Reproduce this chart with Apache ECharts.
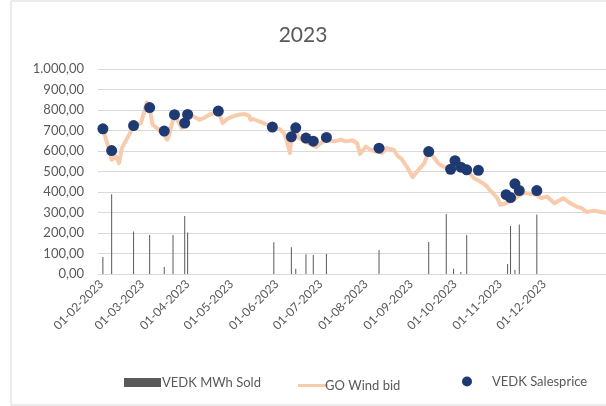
<!DOCTYPE html>
<html>
<head>
<meta charset="utf-8">
<script src="https://cdn.jsdelivr.net/npm/echarts@6/dist/echarts.min.js"></script>
<style>html,body{margin:0;padding:0;background:#fff}#c{width:606px;height:406px}</style>
</head>
<body>
<div id="c"></div>
<script>
// GO Wind bid (line)
const bidDates = ['2023-02-02','2023-02-07','2023-02-08','2023-02-11','2023-02-13','2023-02-15','2023-02-23','2023-02-28','2023-03-02','2023-03-04','2023-03-06','2023-03-08','2023-03-11','2023-03-15','2023-03-18','2023-03-19','2023-03-22','2023-03-23','2023-03-28','2023-03-31','2023-04-02','2023-04-05','2023-04-09','2023-04-12','2023-04-16','2023-04-19','2023-04-22','2023-04-25','2023-04-28','2023-05-02','2023-05-06','2023-05-10','2023-05-13','2023-05-14','2023-05-16','2023-05-20','2023-05-24','2023-05-29','2023-06-03','2023-06-06','2023-06-08','2023-06-10','2023-06-11','2023-06-14','2023-06-16','2023-06-20','2023-06-23','2023-06-28','2023-07-01','2023-07-05','2023-07-10','2023-07-15','2023-07-18','2023-07-23','2023-07-26','2023-07-28','2023-08-01','2023-08-04','2023-08-08','2023-08-10','2023-08-12','2023-08-15','2023-08-20','2023-08-23','2023-08-25','2023-08-29','2023-09-02','2023-09-05','2023-09-10','2023-09-13','2023-09-16','2023-09-20','2023-09-24','2023-09-28','2023-10-02','2023-10-09','2023-10-14','2023-10-17','2023-10-20','2023-10-23','2023-10-25','2023-10-27','2023-10-30','2023-11-01','2023-11-05','2023-11-10','2023-11-16','2023-11-19','2023-11-26','2023-11-29','2023-12-03','2023-12-08','2023-12-14','2023-12-19','2023-12-23','2023-12-27','2023-12-30','2024-01-04','2024-01-08','2024-01-12'];
const bidValues = [708,590,557,573,541,614,720,736,785,837,809,728,712,687,655,671,752,777,712,752,777,769,752,761,777,785,793,736,756,769,777,780,772,752,756,744,733,717,707,687,647,590,663,703,663,647,638,619,638,655,647,655,647,651,638,586,622,606,597,614,590,614,606,573,565,524,472,500,541,597,573,537,521,508,521,508,467,456,443,426,407,394,370,337,345,361,394,394,386,370,378,345,370,345,329,320,302,309,304,299];

// VEDK Salesprice (dots)
const priceDates = ['2023-02-02','2023-02-08','2023-02-23','2023-03-06','2023-03-16','2023-03-23','2023-03-30','2023-04-01','2023-04-22','2023-05-29','2023-06-11','2023-06-14','2023-06-21','2023-06-26','2023-07-05','2023-08-10','2023-09-13','2023-09-28','2023-10-01','2023-10-05','2023-10-09','2023-10-17','2023-11-05','2023-11-08','2023-11-11','2023-11-14','2023-11-26'];
const priceValues = [708,602,724,812,697,777,736,778,795,717,669,713,663,648,666,614,597,511,553,521,508,506,387,373,440,407,407];

// VEDK MWh Sold (bars)
const soldDates = ['2023-02-02','2023-02-08','2023-02-23','2023-03-06','2023-03-16','2023-03-22','2023-03-30','2023-04-01','2023-05-30','2023-06-11','2023-06-14','2023-06-21','2023-06-26','2023-07-05','2023-08-10','2023-09-13','2023-09-25','2023-09-30','2023-10-05','2023-10-09','2023-11-06','2023-11-08','2023-11-11','2023-11-14','2023-11-26'];
const soldValues = [83,389,207,190,34,190,283,202,155,130,26,96,93,98,117,156,293,26,10,190,49,234,20,241,290];

const yTicks = [0,100,200,300,400,500,600,700,800,900,1000];

const FONT = 'Lato, "Open Sans", sans-serif';
const TXT = '#595959';
const zip = (d, v) => d.map((x, i) => [x, v[i]]);
const eu = v => {
  const s = Math.round(v).toString().replace(/\B(?=(\d{3})+(?!\d))/g, '.');
  return s + ',00';
};
const pad = n => (n < 10 ? '0' : '') + n;

const chart = echarts.init(document.getElementById('c'), null, {renderer: 'canvas'});
chart.setOption({
  animation: false,
  backgroundColor: '#fff',
  textStyle: {fontFamily: FONT},
  title: {text: '2023', left: 'center', top: 20, textStyle: {fontFamily: FONT, fontSize: 21, fontWeight: 'normal', color: TXT}},
  graphic: [{type: 'rect', shape: {x: 11, y: 1, width: 700, height: 404}, style: {fill: 'none', stroke: '#d9d9d9', lineWidth: 1}, silent: true}],
  grid: {left: 98, right: 0, top: 69, bottom: 132, containLabel: false},
  legend: [
    {data: [{name: 'VEDK MWh Sold', icon: 'rect'}], left: 119, top: 371, itemWidth: 37, itemHeight: 9, itemGap: 0, textStyle: {color: TXT, fontSize: 13, fontFamily: FONT, padding: [0, 0, 0, -4]}},
    {data: [{name: 'GO Wind bid', icon: 'rect'}], left: 293, top: 374, itemWidth: 30, itemHeight: 3, textStyle: {color: TXT, fontSize: 13, fontFamily: FONT, padding: [0, 0, 0, -8]}},
    {data: [{name: 'VEDK Salesprice', icon: 'circle'}], left: 457, top: 370, itemWidth: 10, itemHeight: 10, textStyle: {color: TXT, fontSize: 13, fontFamily: FONT, padding: [0, 0, 0, 15]}}
  ],
  xAxis: {
    type: 'time',
    min: '2023-01-30',
    max: '2024-01-12',
    splitNumber: 12,
    minInterval: 28 * 864e5,
    maxInterval: 31 * 864e5,
    axisLine: {show: true, lineStyle: {color: '#d9d9d9'}},
    axisTick: {show: false},
    splitLine: {show: false},
    axisLabel: {
      rotate: 45, margin: 8, color: TXT, fontSize: 12, fontFamily: FONT, interval: 0, hideOverlap: false,
      formatter: function (val) {
        const d = new Date(val);
        if (d.getFullYear() !== 2023) return '';
        return pad(d.getDate()) + '-' + pad(d.getMonth() + 1) + '-' + d.getFullYear();
      }
    }
  },
  yAxis: {
    type: 'value', min: yTicks[0], max: yTicks[yTicks.length - 1], interval: 100,
    axisLine: {show: false}, axisTick: {show: false},
    splitLine: {lineStyle: {color: '#d9d9d9', width: 1}},
    axisLabel: {margin: 14, color: TXT, fontSize: 13, fontFamily: FONT, formatter: eu}
  },
  series: [
    {name: 'VEDK MWh Sold', type: 'bar', data: zip(soldDates, soldValues), barWidth: 1, itemStyle: {color: '#595959'}, z: 1},
    {name: 'GO Wind bid', type: 'line', data: zip(bidDates, bidValues), showSymbol: false, symbol: 'none', lineStyle: {color: '#F8CBAD', width: 4, join: 'round', cap: 'round'}, itemStyle: {color: '#F8CBAD'}, z: 2},
    {name: 'VEDK Salesprice', type: 'scatter', data: zip(priceDates, priceValues), symbolSize: 11, itemStyle: {color: '#1F3A73', opacity: 1}, z: 3}
  ]
});
</script>
</body>
</html>
